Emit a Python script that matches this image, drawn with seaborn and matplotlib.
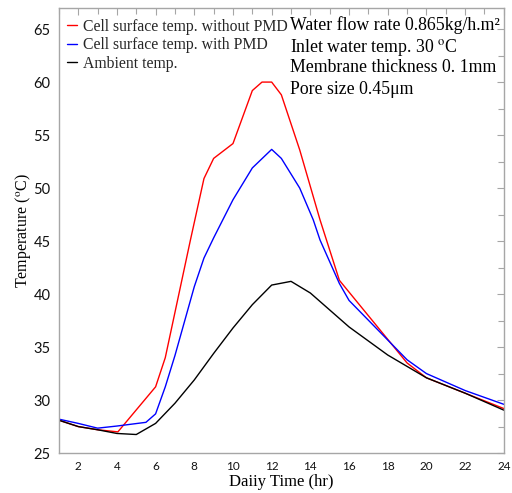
import matplotlib
matplotlib.use("Agg")
import matplotlib.pyplot as plt
import seaborn as sns
import pandas as pd
from matplotlib.ticker import MultipleLocator

# ---- data ----
x_red = [1, 2, 3, 4.05, 6, 6.5, 7.8, 8.5, 9, 10, 11, 11.5, 12, 12.5, 13.45, 14.5, 15.5, 19, 20, 22, 24]
y_red = [28.1, 27.5, 27.2, 27.0, 31.25, 34.0, 45.1, 50.9, 52.8, 54.2, 59.2, 60.0, 60.0, 58.8, 53.6, 47.0, 41.3, 33.5, 32.1, 30.65, 29.2]

x_blue = [1, 2, 3, 4, 5.5, 6, 6.5, 7, 8, 8.5, 9, 10, 11, 12, 12.5, 13.45, 14.15, 14.5, 15.5, 16, 19, 20, 22, 24]
y_blue = [28.2, 27.8, 27.35, 27.55, 27.9, 28.7, 31.25, 34.2, 40.7, 43.4, 45.3, 48.9, 51.9, 53.65, 52.8, 50.0, 47.0, 45.1, 41.0, 39.4, 33.8, 32.5, 30.9, 29.6]

x_blk = [1, 2, 3, 4, 5, 6, 7, 8, 9, 10, 11, 12, 13, 14, 16, 18, 20, 22, 24]
y_blk = [28.1, 27.5, 27.2, 26.85, 26.75, 27.8, 29.7, 31.9, 34.4, 36.8, 39.0, 40.85, 41.2, 40.1, 36.9, 34.25, 32.1, 30.65, 29.05]

labels = ["Cell surface temp. without PMD", "Cell surface temp. with PMD", "Ambient temp."]
colors = ["#ff0000", "#0000ff", "#000000"]
notes = ["Water flow rate 0.865kg/h.m\u00b2",
         "Inlet water temp. 30 $^{\\rm o}$C",
         "Membrane thickness 0. 1mm",
         "Pore size 0.45\u03bcm"]
xticks = [2, 4, 6, 8, 10, 12, 14, 16, 18, 20, 22, 24]
yticks = [25, 30, 35, 40, 45, 50, 55, 60, 65]

sns.set_theme(style="white")
plt.rcParams["mathtext.fontset"] = "stix"

fig = plt.figure(figsize=(5.12, 4.93), dpi=100)
ax = fig.add_axes([0.115, 0.081, 0.869, 0.903])

for xs, ys, lab, c in zip([x_red, x_blue, x_blk], [y_red, y_blue, y_blk], labels, colors):
    df = pd.DataFrame({"x": xs, "y": ys})
    sns.lineplot(data=df, x="x", y="y", ax=ax, color=c, lw=1.0, label=lab, sort=False)

ax.set_xlim(1, 24)
ax.set_ylim(25, 67)
ax.set_xticks(xticks)
ax.set_yticks(yticks)
ax.xaxis.set_minor_locator(MultipleLocator(1))
ax.yaxis.set_minor_locator(MultipleLocator(2.5))

gray = "#a6a6a6"
for s in ax.spines.values():
    s.set_color(gray)
    s.set_linewidth(1.0)
ax.tick_params(which="both", direction="in", top=True, right=True, color=gray, width=0.8)
ax.tick_params(which="major", length=5)
ax.tick_params(which="minor", length=4)
ax.tick_params(axis="y", labelsize=10.5, pad=6)
ax.tick_params(axis="x", labelsize=8.5, pad=6)
for t in ax.get_xticklabels() + ax.get_yticklabels():
    t.set_family("Lato")
    t.set_color("#111111")

ax.set_xlabel("Daiiy Time (hr)", family="Liberation Serif", fontsize=12, labelpad=1, color="black")
ax.set_ylabel("Temperature ($^{\\rm o}$C)", family="Liberation Serif", fontsize=11.5, labelpad=0.5, color="black")

leg = ax.legend(loc="upper left", bbox_to_anchor=(0.0, 0.993), frameon=False,
                prop={"family": "Liberation Serif", "size": 11.3},
                handlelength=0.65, handletextpad=0.4, labelspacing=0.15, borderaxespad=0.1,
                borderpad=0.4)

y0 = 0.982
for i, n in enumerate(notes):
    ax.text(0.52, y0 - i * 0.0485, n, transform=ax.transAxes, va="top", ha="left",
            family="Liberation Serif", fontsize=12.8, color="black")

fig.savefig("out.png", dpi=100)
